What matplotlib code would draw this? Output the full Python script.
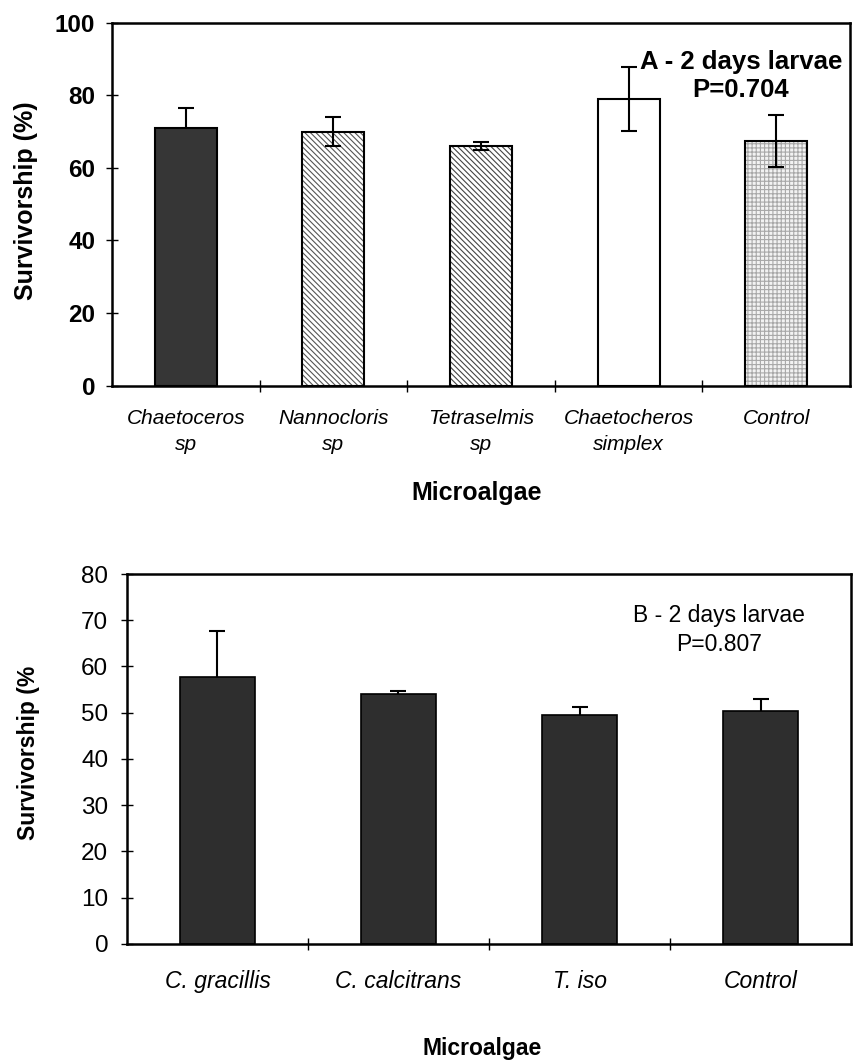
import numpy as np
import matplotlib
matplotlib.use("Agg")
import matplotlib.pyplot as plt

plt.rcParams['font.family'] = ['Liberation Sans', 'DejaVu Sans']
plt.rcParams['hatch.linewidth'] = 0.8

# Panel A - 2 days larvae
labels_a = ["Chaetoceros\nsp", "Nannocloris\nsp", "Tetraselmis\nsp",
            "Chaetocheros\nsimplex", "Control"]
values_a = [71.0, 70.0, 66.0, 79.0, 67.5]
errors_a = [5.5, 4.0, 1.2, 8.8, 7.2]

# Panel B - 2 days larvae
labels_b = ["C. gracillis", "C. calcitrans", "T. iso", "Control"]
values_b = [57.7, 54.0, 49.6, 50.3]
errors_b = [10.0, 0.6, 1.7, 2.6]

fig = plt.figure(figsize=(8.54, 10.61), dpi=100)

# ---- top panel ----
ax1 = fig.add_axes([0.1311, 0.6365, 0.8642, 0.3421])
x1 = np.arange(len(values_a))
faces = ['#363636', 'white', 'white', 'white', '#f2f2f2']
hatches = [None, '\\' * 6, '\\' * 6, None, '++++']
hcolors = ['#363636', '#555555', '#444444', 'white', '#a8a8a8']
for i in range(len(values_a)):
    ax1.bar(x1[i], values_a[i], width=0.42, color=faces[i], hatch=hatches[i],
            edgecolor=hcolors[i], linewidth=0, zorder=2)
    # error bar hidden inside the dark bar, drawn over the light ones
    ax1.errorbar(x1[i], values_a[i], yerr=errors_a[i], fmt='none', ecolor='black',
                 elinewidth=1.5, capsize=5.5, capthick=1.5,
                 zorder=1 if i == 0 else 4)
ax1.bar(x1, values_a, width=0.42, fill=False, edgecolor='black', linewidth=1.5, zorder=3)
ax1.set_xlim(-0.5, 4.5)
ax1.set_ylim(0, 100)
ax1.set_yticks(np.arange(0, 101, 20))
ax1.set_xticks(x1)
ax1.set_xticklabels(labels_a, fontsize=15, style='italic', linespacing=1.45)
ax1.set_xticks(x1[:-1] + 0.5, minor=True)
ax1.tick_params(axis='x', which='major', length=0, pad=17)
ax1.tick_params(axis='x', which='minor', direction='inout', length=8, width=1)
ax1.tick_params(axis='y', direction='inout', length=9, width=1, pad=7.5, labelsize=17.5)
for t in ax1.get_yticklabels():
    t.set_fontweight('bold')
ax1.set_ylabel("Survivorship (%)", fontsize=18, fontweight='bold')
ax1.yaxis.set_label_coords(-0.100, 0.51)
ax1.set_xlabel("Microalgae", fontsize=18, fontweight='bold')
ax1.xaxis.set_label_coords(0.4946, -0.262)
for s in ax1.spines.values():
    s.set_linewidth(1.8)
ax1.text(0.852, 0.853, "A - 2 days larvae\nP=0.704", transform=ax1.transAxes,
         ha='center', va='center', fontsize=18.5, fontweight='bold')

# ---- bottom panel ----
ax2 = fig.add_axes([0.1487, 0.1103, 0.8478, 0.3487])
x2 = np.arange(len(values_b))
ax2.bar(x2, values_b, width=0.41, color='#2e2e2e', edgecolor='black',
        linewidth=1.2, zorder=2)
ax2.errorbar(x2, values_b, yerr=errors_b, fmt='none', ecolor='black',
             elinewidth=1.5, capsize=5.5, capthick=1.5, zorder=1)
ax2.set_xlim(-0.5, 3.5)
ax2.set_ylim(0, 80)
ax2.set_yticks(np.arange(0, 81, 10))
ax2.set_xticks(x2)
ax2.set_xticklabels(labels_b, fontsize=16.5, style='italic')
ax2.set_xticks(x2[:-1] + 0.5, minor=True)
ax2.tick_params(axis='x', which='major', length=0, pad=19)
ax2.tick_params(axis='x', which='minor', direction='inout', length=8, width=1)
ax2.tick_params(axis='y', direction='inout', length=9, width=1, pad=9, labelsize=17.5)
ax2.set_ylabel("Survivorship (%", fontsize=16.5, fontweight='bold')
ax2.yaxis.set_label_coords(-0.12, 0.516)
ax2.set_xlabel("Microalgae", fontsize=16.5, fontweight='bold')
ax2.xaxis.set_label_coords(0.49, -0.252)
for s in ax2.spines.values():
    s.set_linewidth(1.8)
ax2.text(0.818, 0.849, "B - 2 days larvae\nP=0.807", transform=ax2.transAxes,
         ha='center', va='center', fontsize=16.5, linespacing=1.35)

fig.savefig("out.png", dpi=100)
